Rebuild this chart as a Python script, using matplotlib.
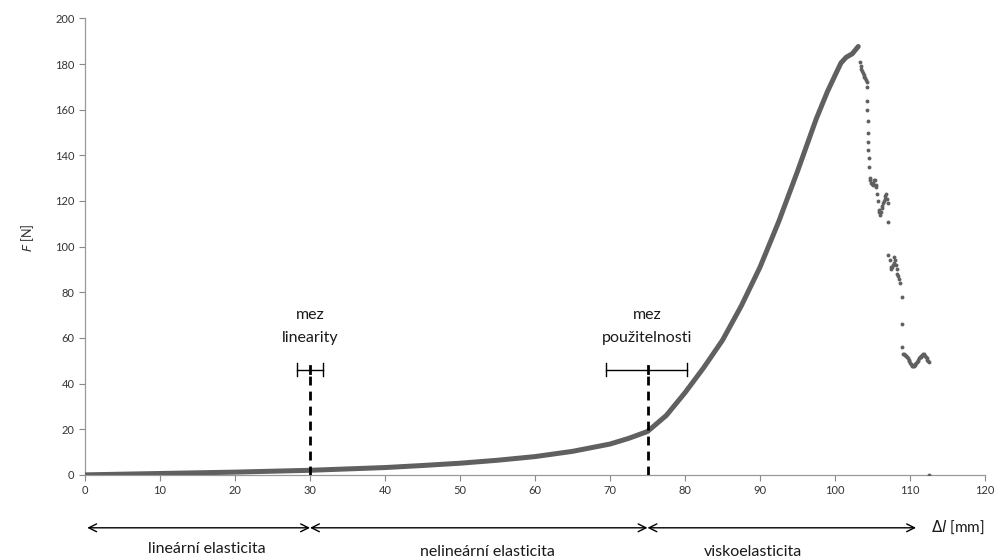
import matplotlib
matplotlib.use("Agg")
import matplotlib.pyplot as plt

plt.rcParams['font.family'] = ['Lato', 'DejaVu Sans']

# Smooth part of the loading curve
curve_x = [0, 5, 10, 15, 20, 25, 30, 35, 40, 45, 50, 55, 60, 65, 70, 72.5, 75,
           77.5, 80, 82.5, 85, 87.5, 90, 92.5, 95, 97.5, 99, 100, 100.8, 101.5, 102.3, 102.8, 103.1]
curve_F = [0, 0.3, 0.6, 0.9, 1.2, 1.6, 2.0, 2.6, 3.2, 4.1, 5.1, 6.4, 8.0, 10.3, 13.5, 16, 19,
           26, 36, 47, 59, 74, 91, 111, 133, 156, 168, 175, 180.5, 183, 184.5, 186.5, 187.7]

# Rupture / drop part (scattered points)
drop_x = [103.3, 103.4, 103.5, 103.6, 103.7, 103.8, 103.9, 104.0, 104.1, 104.2, 104.3, 104.3,
          104.3, 104.35, 104.35, 104.4, 104.45, 104.5, 104.55, 104.6, 104.7, 104.8, 104.9,
          105.0, 105.1, 105.2, 105.3, 105.4, 105.5, 105.6, 105.7, 105.8, 105.9, 106.0, 106.1,
          106.2, 106.3, 106.4, 106.5, 106.6, 106.7, 106.8, 106.9, 107.0, 107.1, 107.1,
          107.3, 107.4, 107.5, 107.6, 107.7, 107.8, 107.9, 108.0, 108.1, 108.2, 108.3, 108.4,
          108.5, 108.6, 108.9, 108.9, 108.9, 109.1, 109.2, 109.3, 109.4, 109.5, 109.6, 109.7,
          109.8, 109.9, 110.0, 110.1, 110.2, 110.3, 110.4, 110.5, 110.6, 110.7, 110.8, 110.9,
          111.0, 111.1, 111.2, 111.3, 111.4, 111.5, 111.6, 111.7, 111.8, 111.9, 112.0, 112.1,
          112.2, 112.3, 112.4, 112.5, 112.5]
drop_F = [181, 179, 178, 177, 176, 175, 174.5, 174, 173, 172, 170, 164,
          160, 155, 150, 146, 142.5, 139, 135, 130, 129, 128, 127.5,
          127, 128, 129, 129, 127, 126, 123, 120, 116, 115, 114, 115,
          117, 118, 119, 120, 121, 122, 123, 121, 119, 111, 96.5,
          94, 91, 90, 91, 92, 93, 95.6, 94, 92, 90, 88, 87,
          86, 84, 78, 66, 56, 53, 53, 52.5, 52, 52, 51.5, 51,
          50.5, 50, 49, 48.5, 48, 47.5, 47.5, 47.5, 48, 48.5, 49, 49.5,
          50, 50.5, 51, 51.5, 51.5, 52, 52.5, 53, 53, 52.5, 52, 51.5,
          51, 50.5, 50, 49.5, 0]

# Region markers
lim_x = [30, 75]
lim_top = 46
lim_err = [(28.3, 31.7), (69.5, 80.2)]
lim_labels = ["mez\nlinearity", "mez\npoužitelnosti"]

region_bounds = [(0.3, 30), (30, 75), (75, 110.8)]
region_labels = ["lineární elasticita", "nelineární elasticita", "viskoelasticita"]
region_label_x = [16.3, 53.6, 89.0]
region_label_y = [-32.3, -33.6, -33.6]

xticks = list(range(0, 121, 10))
yticks = list(range(0, 201, 20))

fig = plt.figure(figsize=(10, 5.58), dpi=100)
ax = fig.add_axes([0.085, 0.149, 0.90, 0.818])

curve_col = '#606060'
ax.plot(curve_x, curve_F, color=curve_col, lw=3.6, solid_capstyle='round',
        solid_joinstyle='round', zorder=3)
ax.plot(drop_x, drop_F, ls='none', marker='o', ms=2.8, color=curve_col, mec='none', zorder=3)

for xv, (e0, e1), lab in zip(lim_x, lim_err, lim_labels):
    ax.plot([xv, xv], [0, lim_top], color='black', lw=2.0, ls=(0, (3.2, 2.2)), zorder=4)
    ax.plot([e0, e1], [lim_top, lim_top], color='black', lw=1.0, zorder=4)
    for e in (e0, e1):
        ax.plot([e, e], [lim_top - 2.8, lim_top + 2.8], color='black', lw=1.0, zorder=4)
    ax.plot([xv, xv], [lim_top - 1.5, lim_top + 1.5], color='black', lw=2.0, zorder=4)
    ax.text(xv, 65, lab, ha='center', va='center', fontsize=11.5, linespacing=1.75,
            color='#1a1a1a')

arrow_y = -23.2
for (a, b) in region_bounds:
    ax.annotate('', xy=(b, arrow_y), xytext=(a, arrow_y), xycoords='data',
                annotation_clip=False,
                arrowprops=dict(arrowstyle='<->', color='black', lw=1.0,
                                shrinkA=0, shrinkB=0, mutation_scale=14))
for xl, yl, lab in zip(region_label_x, region_label_y, region_labels):
    ax.text(xl, yl, lab, ha='center', va='center', fontsize=11.5, color='#1a1a1a',
            clip_on=False)

ax.text(120, arrow_y, r'$\mathit{\Delta l}$ [mm]', ha='right', va='center', fontsize=11,
        color='#1a1a1a', clip_on=False)

ax.set_xlim(0, 120)
ax.set_ylim(0, 200)
ax.set_xticks(xticks)
ax.set_yticks(yticks)
ax.tick_params(axis='both', labelsize=8, colors='#888888', length=4, width=0.8,
               labelcolor='#333333')
for s in ('top', 'right'):
    ax.spines[s].set_visible(False)
for s in ('left', 'bottom'):
    ax.spines[s].set_color('#999999')
    ax.spines[s].set_linewidth(0.9)

ax.set_ylabel(r'$\mathit{F}$ [N]', fontsize=9, color='#333333')
ax.yaxis.set_label_coords(-0.055, 0.52)

fig.savefig('out.png', dpi=100, facecolor='white')
